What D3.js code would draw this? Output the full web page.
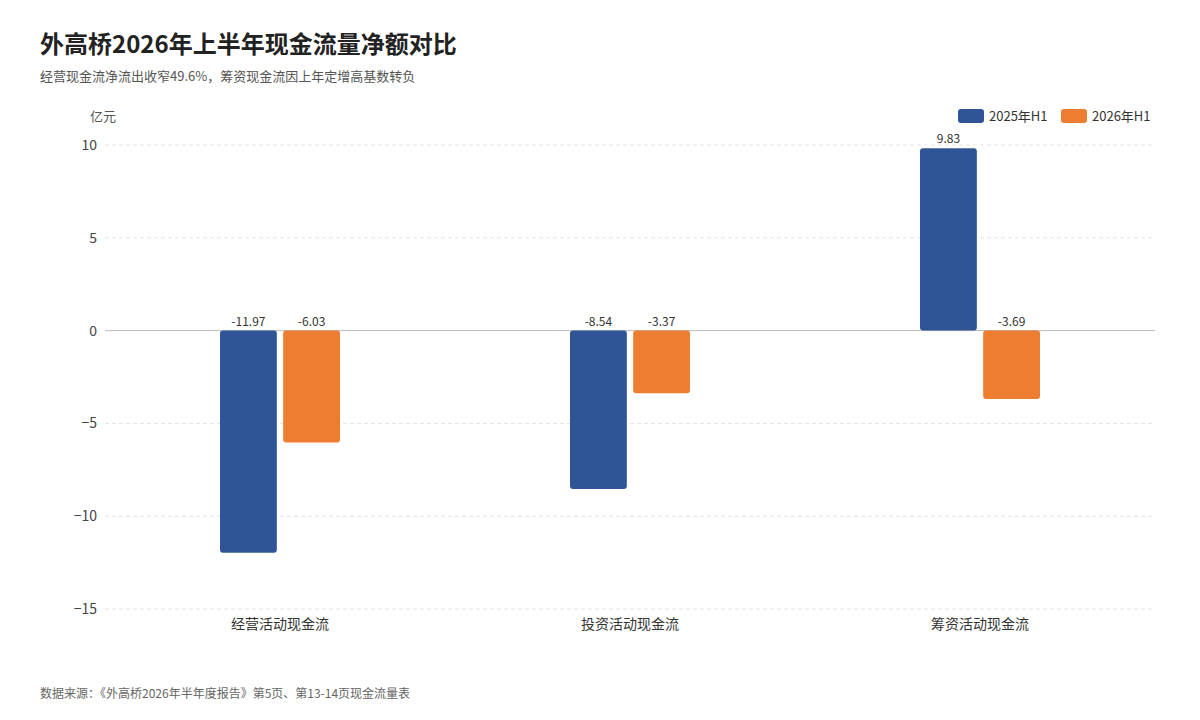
<!DOCTYPE html>
<html><head><meta charset="utf-8">
<script src="https://cdn.jsdelivr.net/npm/d3@7"></script>
<style>body{margin:0;background:#fff;font-family:"Noto Sans CJK SC","Noto Sans",sans-serif;}</style>
</head><body>
<svg id="chart" width="1200" height="720"></svg>
<script>
let categories = ["经营活动现金流", "投资活动现金流", "筹资活动现金流"];
let seriesNames = ["2025年H1", "2026年H1"];
let values2025 = [-11.97, -8.54, 9.83];
let values2026 = [-6.03, -3.37, -3.69];
let yTicks = [10, 5, 0, -5, -10, -15];
let colors = ["#2f5597", "#ed7d31"];

let svg = d3.select("#chart");
let margin = {left: 105, right: 45, top: 145, bottom: 111};
let width = 1200 - margin.left - margin.right;
let height = 720 - margin.top - margin.bottom;

svg.append("text").attr("x", 40).attr("y", 53).attr("font-size", 24).attr("font-weight", 700)
   .attr("fill", "#222").text("外高桥2026年上半年现金流量净额对比");
svg.append("text").attr("x", 40).attr("y", 81).attr("font-size", 13).attr("fill", "#555")
   .text("经营现金流净流出收窄49.6%，筹资现金流因上年定增高基数转负");
svg.append("text").attr("x", 40).attr("y", 698).attr("font-size", 12).attr("fill", "#666")
   .text("数据来源：《外高桥2026年半年度报告》第5页、第13-14页现金流量表");
svg.append("text").attr("x", 90).attr("y", 121).attr("font-size", 13).attr("fill", "#555").text("亿元");

let g = svg.append("g").attr("transform", `translate(${margin.left},${margin.top})`);
let y = d3.scaleLinear().domain([10, -15]).range([0, height]);
let x0 = d3.scaleBand().domain(categories).range([0, width]);
let x1 = d3.scaleBand().domain(seriesNames).range([x0.bandwidth() / 2 - 60, x0.bandwidth() / 2 + 60]).paddingInner(0.1);

g.selectAll(".grid").data(yTicks.filter(t => t !== 0)).enter().append("line")
 .attr("x1", 0).attr("x2", width).attr("y1", d => y(d)).attr("y2", d => y(d))
 .attr("stroke", "#e3e3e3").attr("stroke-dasharray", "4,3");
g.append("line").attr("x1", 0).attr("x2", width).attr("y1", y(0)).attr("y2", y(0)).attr("stroke", "#bbb");

let yAxis = g.append("g").call(d3.axisLeft(y).tickValues(yTicks).tickSize(0).tickPadding(8));
yAxis.select(".domain").remove();
yAxis.selectAll("text").attr("font-size", 14).attr("fill", "#444").attr("font-family", "Noto Sans CJK SC");

let xAxis = g.append("g").attr("transform", `translate(0,${height})`).call(d3.axisBottom(x0).tickSize(0).tickPadding(10));
xAxis.select(".domain").remove();
xAxis.selectAll("text").attr("font-size", 14).attr("fill", "#333").attr("font-family", "Noto Sans CJK SC");

let rows = categories.map((c, i) => ({cat: c, vals: [values2025[i], values2026[i]]}));
let grp = g.selectAll(".grp").data(rows).enter().append("g").attr("transform", d => `translate(${x0(d.cat)},0)`);
let bars = grp.selectAll(".bar").data(d => d.vals.map((v, j) => ({s: seriesNames[j], v, j}))).enter();
bars.append("rect")
 .attr("x", d => x1(d.s)).attr("width", x1.bandwidth())
 .attr("y", d => y(Math.max(0, d.v))).attr("height", d => Math.abs(y(d.v) - y(0)))
 .attr("rx", 3).attr("fill", d => colors[d.j]);
bars.append("text")
 .attr("x", d => x1(d.s) + x1.bandwidth() / 2)
 .attr("y", d => d.v >= 0 ? y(d.v) - 5 : y(0) - 5)
 .attr("text-anchor", "middle").attr("font-size", 12).attr("fill", "#333")
 .text(d => d.v.toFixed(2));

let legend = svg.append("g").attr("transform", "translate(958,109)");
seriesNames.forEach((s, i) => {
  let lg = legend.append("g").attr("transform", `translate(${i * 103},0)`);
  lg.append("rect").attr("width", 26).attr("height", 14).attr("rx", 3).attr("fill", colors[i]);
  lg.append("text").attr("x", 31).attr("y", 12).attr("font-size", 13).attr("fill", "#333").text(s);
});
</script>
</body></html>
